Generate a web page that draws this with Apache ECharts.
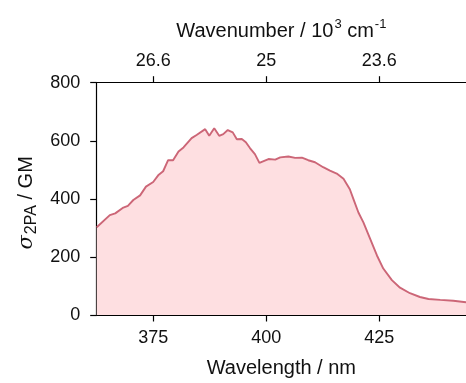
<!DOCTYPE html>
<html><head><meta charset="utf-8">
<script src="https://cdn.jsdelivr.net/npm/echarts@6/dist/echarts.min.js"></script>
<style>html,body{margin:0;padding:0;background:#fff}#c{width:466px;height:383px}</style>
</head><body><div id="c"></div>
<script>
const wavelength = [362.5,365.4,366.6,368.4,369.4,370.6,372.1,373.4,375,376.1,377.2,378.3,379.4,380.6,381.7,383.5,384.6,386.5,387.4,388.5,389.6,390.5,391.5,392.6,393.5,394.6,395.5,396.4,397.5,398.5,400.5,402,403.1,404.9,406.4,407.9,409.3,410.8,412.6,414.1,415.6,417.1,418.5,419.3,420.4,421.5,423,424.5,425.9,427.8,429.6,431.8,434,435.9,438.5,441.4,444.2];
const sigma2PA = [302,344,350,370,376,396,412,442,458,481,495,533,533,563,577,609,620,640,617,643,617,623,637,629,605,606,595,575,554,524,537,535,543,546,541,542,533,526,509,497,487,469,433,399,353,319,262,205,160,120,94,75,62,55,52,49,44];
const bottomTicks = [375,400,425];
const topTickLabels = ['26.6','25','23.6'];

const FONT = '"Liberation Sans", Arial, sans-serif';
const TXT = '#111';
const chart = echarts.init(document.getElementById('c'));
const data = wavelength.map((w,i)=>[w,sigma2PA[i]]);
const tick = {show:true,inside:false,length:6.5,lineStyle:{color:'#000',width:1.2}};
const axisCommon = {
  type:'value', min: 362.5, max: 444.2, interval: 25,
  axisLine:{show:true,onZero:false,lineStyle:{color:'#000',width:1.2}},
  splitLine:{show:false},
  nameLocation:'middle'
};
chart.setOption({
  animation:false,
  grid:{left:96.7,right:0,top:82.7,bottom:66,containLabel:false},
  xAxis:[
    Object.assign({},axisCommon,{
      position:'bottom',
      name:'Wavelength / nm',nameGap:43,
      nameTextStyle:{fontFamily:FONT,fontSize:20,color:TXT},
      axisLabel:{fontFamily:FONT,fontSize:18,color:TXT,margin:14,
        customValues:bottomTicks, formatter:v=>String(v)},
      axisTick:Object.assign({},tick,{customValues:bottomTicks})
    }),
    Object.assign({},axisCommon,{
      position:'top',
      name:'{m|Wavenumber / 10}{p|3}{m| cm}{p|-1}',nameGap:41,
      nameTextStyle:{fontFamily:FONT,fontSize:20,color:TXT,
        rich:{m:{fontFamily:FONT,fontSize:20,color:TXT,lineHeight:24,verticalAlign:'bottom'},
              p:{fontFamily:FONT,fontSize:13,color:TXT,lineHeight:24,verticalAlign:'top',padding:[0,0,9,1]}}},
      axisLabel:{fontFamily:FONT,fontSize:18,color:TXT,margin:13,
        customValues:bottomTicks, formatter:v=>topTickLabels[bottomTicks.indexOf(v)]},
      axisTick:Object.assign({},tick,{customValues:bottomTicks})
    })
  ],
  yAxis:{
    type:'value',min:0,max:800,interval:200,
    axisLine:{show:true,lineStyle:{color:'#000',width:1.2}},
    axisTick:tick,
    splitLine:{show:false},
    axisLabel:{fontFamily:FONT,fontSize:18,color:TXT,margin:16.5},
    name:'{g|σ}{s|2PA}{m| / GM}',nameLocation:'middle',nameGap:52,nameRotate:90,
    nameTextStyle:{fontFamily:FONT,fontSize:20,color:TXT,padding:[0,8,0,0],
      rich:{g:{fontFamily:'"DejaVu Serif", serif',fontStyle:'italic',fontSize:21,color:TXT,lineHeight:26,verticalAlign:'middle'},
            m:{fontFamily:FONT,fontSize:20,color:TXT,lineHeight:26,verticalAlign:'middle'},
            s:{fontFamily:FONT,fontSize:16,color:TXT,lineHeight:26,verticalAlign:'bottom',padding:[9,0,0,1]}}}
  },
  series:[{
    type:'line',xAxisIndex:0,data:data,showSymbol:false,smooth:false,
    lineStyle:{color:'#cc6677',width:1.9},
    areaStyle:{color:'#fedfe1',opacity:1},
    itemStyle:{color:'#cc6677'}
  }]
});
</script></body></html>
